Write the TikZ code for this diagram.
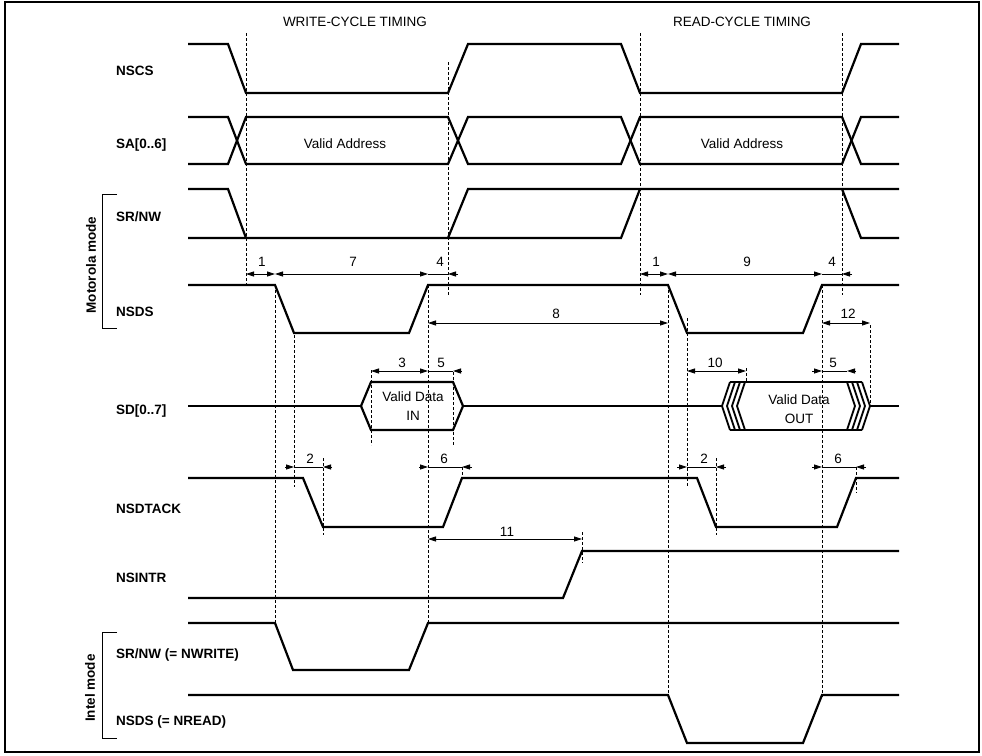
\documentclass[tikz,border=0pt]{standalone}
\usepackage{fontspec}
\setmainfont{Liberation Sans}
\usetikzlibrary{arrows.meta}
\begin{document}
\begin{tikzpicture}[x=1pt,y=-1pt,
  >={Triangle[length=8pt,width=5pt]},
  sig/.style={line width=2.2pt},
  chev/.style={line width=1.8pt},
  guide/.style={line width=0.8pt, dash pattern=on 2.5pt off 2.5pt},
  dim/.style={line width=0.8pt},
  brk/.style={line width=1pt},
  lbl/.style={anchor=base west, inner sep=0pt, font=\fontsize{13.5}{15}\selectfont\bfseries},
  txt/.style={anchor=base, inner sep=0pt, font=\fontsize{13.5}{15}\selectfont},
  num/.style={anchor=base, inner sep=0pt, font=\fontsize{13.5}{15}\selectfont},
  side/.style={rotate=90, inner sep=0pt, font=\fontsize{13.5}{15}\selectfont\bfseries}
]
\useasboundingbox (0,0) rectangle (982,755);
\draw[line width=1.3pt] (5,2) rectangle (979,752);

% titles
\node[txt] (tw) at (355,26) {WRITE-CYCLE TIMING};
\node[txt] (tr) at (742,26) {READ-CYCLE TIMING};

% labels
\node[lbl] (lnscs) at (116,75) {NSCS};
\node[lbl] (lsa) at (116,148) {SA[0..6]};
\node[lbl] (lsrnw) at (116,221) {SR/NW};
\node[lbl] (lnsds) at (116,316) {NSDS};
\node[lbl] (lsd) at (116,414) {SD[0..7]};
\node[lbl] (lack) at (116,513) {NSDTACK};
\node[lbl] (lintr) at (116,582) {NSINTR};
\node[lbl] (lnw) at (116,658) {SR/NW (= NWRITE)};
\node[lbl] (lnr) at (116,725) {NSDS (= NREAD)};

\node[side] (mot) at (91,265) {Motorola mode};
\node[side] (intel) at (90,688) {Intel mode};
\draw[brk] (117,194) -- (102,194) -- (102,328) -- (117,328);
\draw[brk] (117,632) -- (102,632) -- (102,738) -- (117,738);

% guides
\foreach \x/\a/\b in {246/33/285, 448/62/296, 640/33/295, 842/33/295,
  275/285/623, 294/335/487, 323/458/535, 371/370/445, 428/285/623,
  453/372/445, 582/532/563, 668/285/697, 687/318/487, 716/458/535,
  746/368/382, 822/285/697, 870/325/407, 856/467/493, 462/467/478}
  \draw[guide] (\x,\a) -- (\x,\b);

% NSCS
\draw[sig] (188,44) -- (228,44) -- (246,93) -- (448,93) -- (468,44) -- (621,44)
  -- (640,93) -- (842,93) -- (861,44) -- (899,44);
% SA
\draw[sig] (188,117) -- (228,117) -- (246,164) -- (448,164) -- (468,117) -- (621,117)
  -- (640,164) -- (842,164) -- (861,117) -- (899,117);
\draw[sig] (188,164) -- (228,164) -- (246,117) -- (448,117) -- (468,164) -- (621,164)
  -- (640,117) -- (842,117) -- (861,164) -- (899,164);
\node[txt] (va1) at (345,148) {Valid Address};
\node[txt] (va2) at (742,148) {Valid Address};
% SR/NW motorola
\draw[sig] (188,189) -- (228,189) -- (246,238);
\draw[sig] (188,238) -- (621,238) -- (640,189);
\draw[sig] (448,238) -- (468,189) -- (899,189);
\draw[sig] (842,189) -- (861,238) -- (899,238);
% NSDS motorola
\draw[sig] (188,285) -- (275,285) -- (294,333) -- (409,333) -- (428,285) -- (668,285)
  -- (687,333) -- (803,333) -- (822,285) -- (899,285);
% SD
\draw[sig] (188,406) -- (361,406);
\draw[sig] (361,406) -- (371,382) -- (453,382) -- (463,406) -- (453,430) -- (371,430) -- cycle;
\draw[sig] (463,406) -- (722,406);
\draw[sig] (871,406) -- (899,406);
\draw[sig] (730,382) -- (862,382);
\draw[sig] (730,430) -- (862,430);
\foreach \i in {0,1,2,3} {
  \draw[chev] (730+5*\i,382) -- (722+5*\i,406) -- (730+5*\i,430);
  \draw[chev] (847+5*\i,382) -- (855+5*\i,406) -- (847+5*\i,430);
}
\node[txt, anchor=center, align=center, font=\fontsize{13.5}{18.5}\selectfont] (vdi) at (413,406) {Valid Data\\IN};
\node[txt, anchor=center, align=center, font=\fontsize{13.5}{18.5}\selectfont] (vdo) at (799,409) {Valid Data\\OUT};
% NSDTACK
\draw[sig] (188,478) -- (303,478) -- (323,527) -- (443,527) -- (462,478) -- (697,478)
  -- (716,527) -- (837,527) -- (856,478) -- (899,478);
% NSINTR
\draw[sig] (188,598) -- (563,598) -- (582,551) -- (899,551);
% Intel SR/NW
\draw[sig] (188,623) -- (275,623) -- (293,670) -- (409,670) -- (428,623) -- (899,623);
% Intel NSDS
\draw[sig] (188,695) -- (668,695) -- (687,743) -- (803,743) -- (822,695) -- (899,695);

% dimensions: row 274
\draw[dim,<->] (246,274) -- (275,274);
\draw[dim,<->] (275,274) -- (428,274);
\draw[dim] (428,274) -- (448,274);
\draw[dim,->] (458,274) -- (448,274);
\node[num] (n1a) at (262,266) {1};
\node[num] (n7) at (353,266) {7};
\node[num] (n4a) at (440,266) {4};
\draw[dim,<->] (640,274) -- (668,274);
\draw[dim,<->] (668,274) -- (822,274);
\draw[dim] (822,274) -- (842,274);
\draw[dim,->] (852,274) -- (842,274);
\node[num] (n1b) at (656,266) {1};
\node[num] (n9) at (747,266) {9};
\node[num] (n4b) at (832,266) {4};
% row 323
\draw[dim,<->] (428,323) -- (668,323);
\node[num] (n8) at (556,318) {8};
\draw[dim,<->] (822,323) -- (870,323);
\node[num] (n12) at (848,318) {12};
% row 371
\draw[dim,<->] (371,371) -- (428,371);
\draw[dim] (428,371) -- (453,371);
\draw[dim,->] (461,371) -- (453,371);
\node[num] (n3) at (402,367) {3};
\node[num] (n5a) at (441,367) {5};
\draw[dim,<->] (687,371) -- (746,371);
\node[num] (n10) at (715,367) {10};
\draw[dim,->] (812,371) -- (822,371);
\draw[dim] (822,371) -- (847,371);
\draw[dim,->] (856,371) -- (847,371);
\node[num] (n5b) at (833,367) {5};
% row 467
\draw[dim,->] (285,467) -- (294,467);
\draw[dim] (294,467) -- (323,467);
\draw[dim,->] (332,467) -- (323,467);
\node[num] (n2a) at (310,463) {2};
\draw[dim,->] (419,467) -- (428,467);
\draw[dim] (428,467) -- (462,467);
\draw[dim,->] (472,467) -- (462,467);
\node[num] (n6a) at (444,463) {6};
\draw[dim,->] (677,467) -- (687,467);
\draw[dim] (687,467) -- (716,467);
\draw[dim,->] (726,467) -- (716,467);
\node[num] (n2b) at (704,463) {2};
\draw[dim,->] (812,467) -- (822,467);
\draw[dim] (822,467) -- (856,467);
\draw[dim,->] (866,467) -- (856,467);
\node[num] (n6b) at (838,463) {6};
% 11
\draw[dim,<->] (428,539) -- (582,539);
\node[num] (n11) at (507,536) {11};
\end{tikzpicture}
\end{document}
